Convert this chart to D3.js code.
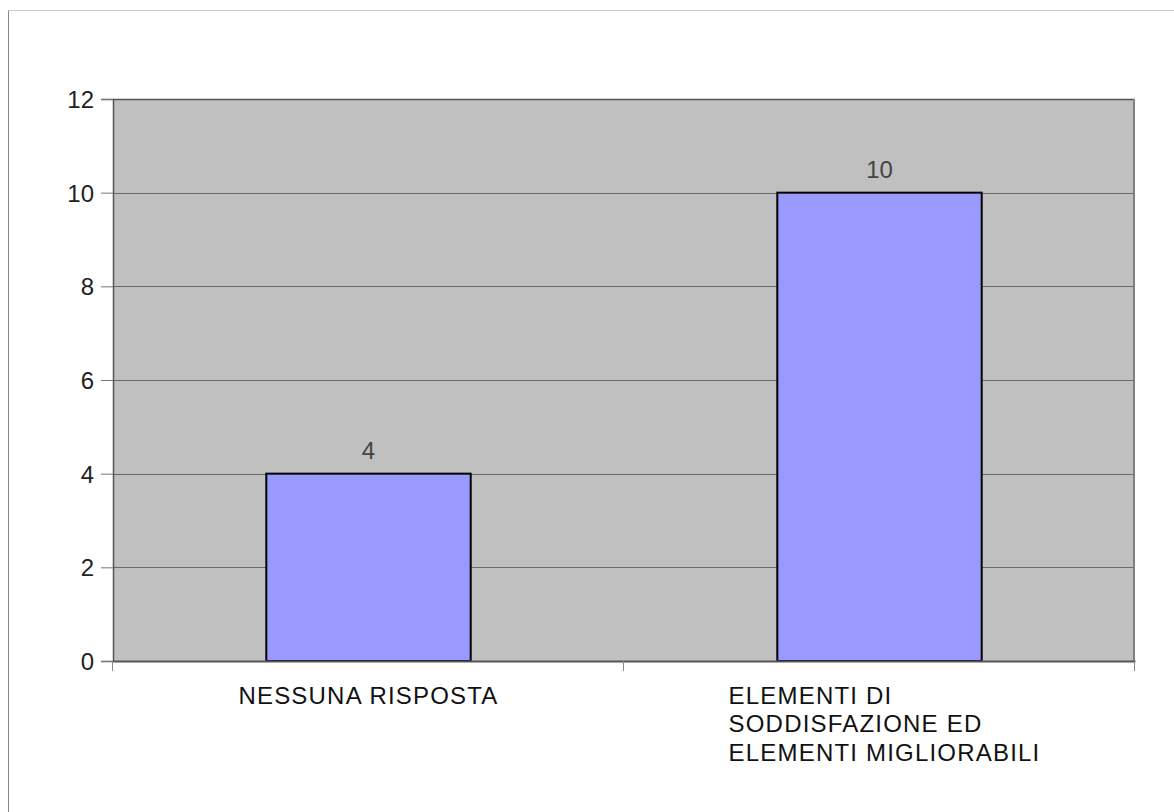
<!DOCTYPE html>
<html><head><meta charset="utf-8">
<script src="https://cdn.jsdelivr.net/npm/d3@7"></script>
<style>body{margin:0;background:#fff}svg{display:block}text{font-family:"Liberation Sans",Arial,sans-serif}</style>
</head><body>
<script>
const categories = ["NESSUNA RISPOSTA", "ELEMENTI DI SODDISFAZIONE ED ELEMENTI MIGLIORABILI"];
const labelLines = [["NESSUNA RISPOSTA"], ["ELEMENTI DI", "SODDISFAZIONE ED", "ELEMENTI MIGLIORABILI"]];
const values = [4, 10];
const yTicks = [0, 2, 4, 6, 8, 10, 12];

const W = 1174, H = 812;
const m = {left: 113, top: 99, right: 1135, bottom: 661};
const svg = d3.select("body").append("svg").attr("width", W).attr("height", H);

// outer frame
svg.append("line").attr("x1", 8.5).attr("x2", W).attr("y1", 10.5).attr("y2", 10.5).attr("stroke", "#c8c8c8");
svg.append("line").attr("x1", 8.5).attr("x2", 8.5).attr("y1", 10.5).attr("y2", H).attr("stroke", "#888");

const x = d3.scaleBand().domain(categories).range([m.left, m.right]).paddingInner(0).paddingOuter(0);
const y = d3.scaleLinear().domain([0, 12]).range([m.bottom, m.top]);

svg.append("rect").attr("x", m.left).attr("y", m.top).attr("width", m.right - m.left).attr("height", m.bottom - m.top).attr("fill", "#c0c0c0");

// gridlines
svg.append("g").selectAll("line").data(yTicks.filter(d => d > 0)).join("line")
  .attr("x1", m.left).attr("x2", m.right)
  .attr("y1", d => Math.round(y(d)) + 0.5).attr("y2", d => Math.round(y(d)) + 0.5)
  .attr("stroke", d => d === 12 ? "#555" : "#6a6a6a").attr("stroke-width", d => d === 12 ? 1.5 : 1);
svg.append("line").attr("x1", m.right - 1).attr("x2", m.right - 1).attr("y1", m.top).attr("y2", m.bottom).attr("stroke", "#808080").attr("stroke-width", 2);

// bars
const bw = x.bandwidth() * 0.4;
svg.append("g").selectAll("rect").data(values).join("rect")
  .attr("x", (d, i) => x(categories[i]) + x.bandwidth() / 2 - bw / 2)
  .attr("y", d => y(d))
  .attr("width", bw).attr("height", d => y(0) - y(d))
  .attr("fill", "#9999ff").attr("stroke", "#000").attr("stroke-width", 2);

// value labels
svg.append("g").selectAll("text").data(values).join("text")
  .attr("x", (d, i) => x(categories[i]) + x.bandwidth() / 2)
  .attr("y", d => y(d) - 15)
  .attr("text-anchor", "middle").attr("font-size", 24).attr("fill", "#444")
  .text(d => d);

// y axis
const yAxis = d3.axisLeft(y).tickValues(yTicks).tickSize(12).tickPadding(7);
const gy = svg.append("g").attr("transform", `translate(${m.left},0)`).call(yAxis);
gy.attr("font-size", null).attr("font-family", null);
gy.select(".domain").attr("stroke", "#555").attr("stroke-width", 1.5);
gy.selectAll(".tick line").attr("stroke", "#777");
gy.selectAll(".tick text").attr("font-size", 24).attr("fill", "#222").attr("dy", "0.36em");

// x axis
const xAxis = d3.axisBottom(x).tickValues([]).tickSizeOuter(0);
const gx = svg.append("g").attr("transform", `translate(0,${m.bottom})`).call(xAxis);
gx.select(".domain").attr("stroke", "#555").attr("stroke-width", 2);
const xTickPos = [m.left, m.left + x.step(), m.right];
gx.selectAll("line.xt").data(xTickPos).join("line").attr("class", "xt")
  .attr("x1", d => d - 0.5).attr("x2", d => d - 0.5).attr("y1", 0).attr("y2", 10).attr("stroke", "#888");

// category labels
const lab = svg.append("g");
labelLines.forEach((lines, i) => {
  const cx = x(categories[i]) + x.bandwidth() / 2;
  const t = lab.append("text").attr("font-size", 24).attr("fill", "#111").attr("letter-spacing", 1.2);
  lines.forEach((ln, j) => {
    t.append("tspan").attr("x", 0).attr("y", 704 + j * 28.3).text(ln);
  });
  const bb = t.node().getBBox();
  t.selectAll("tspan").attr("x", cx - bb.width / 2 + (i === 1 ? 5 : 0));
});
</script>
</body></html>
